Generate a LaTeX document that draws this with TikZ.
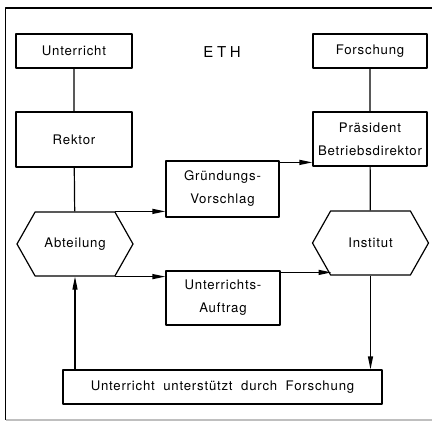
\documentclass[tikz,border=0pt]{standalone}
\usepackage{fontspec}
\setmainfont[LetterSpace=6,WordSpace=1.9]{TeX Gyre Heros}
\usetikzlibrary{arrows.meta,shapes.symbols,positioning}
\begin{document}
\begin{tikzpicture}[x=1pt,y=-1pt,line width=1.2pt,line join=round,font=\fontsize{13.2}{23}\selectfont,
	box/.style={draw,rectangle,align=center,inner sep=0pt},
	hex/.style={draw,signal,signal to=west and east,signal pointer angle=121,minimum width=116,minimum height=64,inner sep=0pt},
	arr/.style={-{Triangle[length=13pt,width=5pt]}}]
	\useasboundingbox (0,0) rectangle (432,424);
	\draw (432,8) -- (5.5,8) -- (5.5,420);
	\draw[gray!50] (5.5,420) -- (432,420);
	\node[box,minimum width=116,minimum height=34] (unterricht) at (74,51) {Unterricht};
	\node[box,minimum width=116,minimum height=55] (rektor) at (74,139.5) {Rektor};
	\node[box,minimum width=114,minimum height=34] (forschung) at (370,51) {Forschung};
	\node[box,minimum width=114,minimum height=54] (praesident) at (370,139) {Präsident\\Betriebsdirektor};
	\node[box,minimum width=113,minimum height=56] (gruendung) at (222.5,189) {Gründungs-\\Vorschlag};
	\node[box,minimum width=114,minimum height=54] (auftrag) at (223,298) {Unterrichts-\\Auftrag};
	\node[box,minimum width=319,minimum height=34] (forschungbox) at (222.5,387) {Unterricht unterstützt durch Forschung};
	\node[hex] (abteilung) at (75,244) {Abteilung};
	\node[hex] (institut) at (370.5,243) {Institut};
	\node[font=\fontsize{15}{17}\selectfont\addfontfeature{LetterSpace=25}] (eth) at (222,52) {ETH};
	\coordinate (abt_ne) at ([xshift=40]abteilung.north);
	\coordinate (abt_se) at ([xshift=40]abteilung.south);
	\coordinate (inst_sw) at ([xshift=-39]institut.south);
	\coordinate (auf_ne) at ([yshift=-2]auftrag.north east);
	\draw
	(unterricht)--(rektor) (rektor)--(abteilung)
	(forschung)--(praesident) (praesident)--(institut)
	;
	\draw[arr] (abt_ne) -- (abt_ne -| gruendung.west);
	\draw[arr] (abt_se) -- (abt_se -| auftrag.west);
	\draw[arr] ([yshift=-2]gruendung.north east) -- ([yshift=-2]gruendung.north east -| praesident.west);
	\draw[arr] (auf_ne) -- (auf_ne -| inst_sw);
	\draw[arr] (institut.south) -- (institut.south |- forschungbox.north);
	\draw[arr] (abteilung.south |- forschungbox.north) -- (abteilung.south);
\end{tikzpicture}
\end{document}
